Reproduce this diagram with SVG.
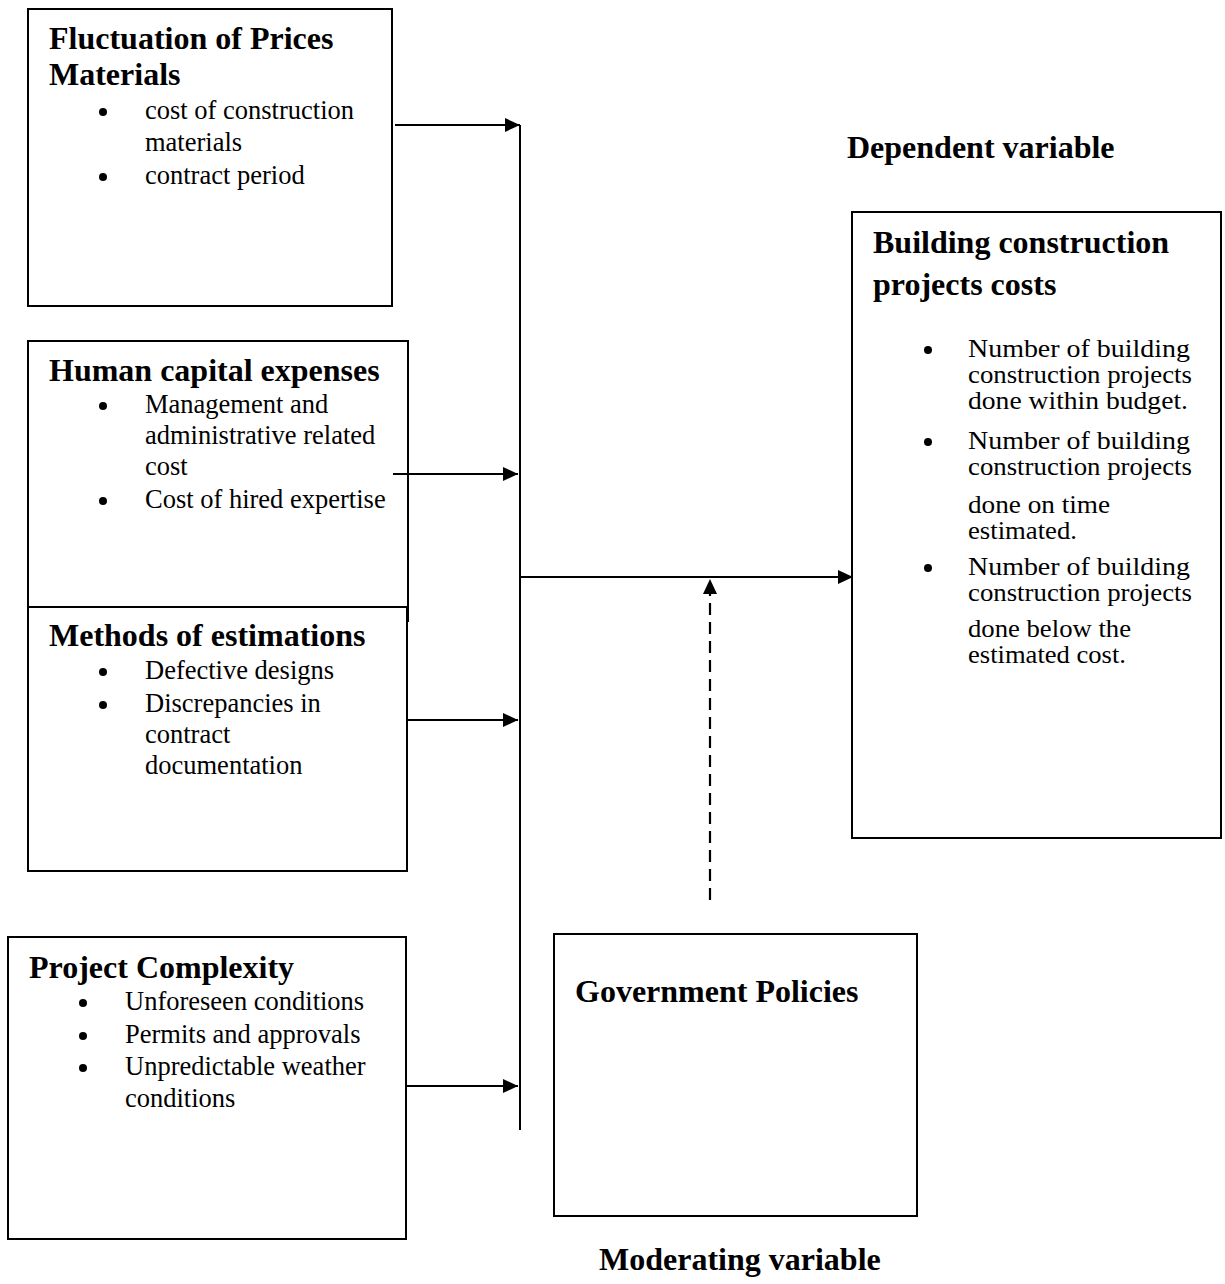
<svg xmlns="http://www.w3.org/2000/svg" width="1225" height="1284" viewBox="0 0 1225 1284">
<defs>
<style>
.box{fill:#fff;stroke:#000;stroke-width:2}
.t{font-family:"Liberation Serif","Times New Roman",serif;font-weight:bold;font-size:32px;fill:#000}
.b{font-family:"Liberation Serif","Times New Roman",serif;font-size:26.5px;fill:#000}
.r{font-family:"Liberation Serif","Times New Roman",serif;font-size:26px;fill:#000}
.ln{stroke:#000;stroke-width:2;fill:none}
.dash{stroke:#000;stroke-width:2.2;fill:none;stroke-dasharray:12,7}
</style>
<marker id="ah" markerWidth="15" markerHeight="14" refX="15" refY="7" orient="auto" markerUnits="userSpaceOnUse">
<path d="M0,0 L15,7 L0,14 Z" fill="#000"/>
</marker>
</defs>
<rect width="1225" height="1284" fill="#fff"/>
<g id="node-fluctuation">
<rect class="box" x="28" y="9" width="364" height="297"/>
<text class="t" x="49" y="49">Fluctuation of Prices</text>
<text class="t" x="49" y="85">Materials</text>
<circle cx="103" cy="112" r="4"/>
<text class="b" x="145" y="119">cost of construction</text>
<text class="b" x="145" y="151">materials</text>
<circle cx="103" cy="177" r="4"/>
<text class="b" x="145" y="184">contract period</text>
</g>
<g id="node-human">
<path class="box" d="M408,622 V341 H28 V607"/>
<text class="t" x="49" y="381">Human capital expenses</text>
<circle cx="103" cy="406" r="4"/>
<text class="b" x="145" y="413">Management and</text>
<text class="b" x="145" y="444">administrative related</text>
<text class="b" x="145" y="475">cost</text>
<circle cx="103" cy="501" r="4"/>
<text class="b" x="145" y="508">Cost of hired expertise</text>
</g>
<g id="node-methods">
<rect class="box" x="28" y="607" width="379" height="264"/>
<text class="t" x="49" y="646">Methods of estimations</text>
<circle cx="103" cy="672" r="4"/>
<text class="b" x="145" y="679">Defective designs</text>
<circle cx="103" cy="705" r="4"/>
<text class="b" x="145" y="712">Discrepancies in</text>
<text class="b" x="145" y="743">contract</text>
<text class="b" x="145" y="774">documentation</text>
</g>
<g id="node-complexity">
<rect class="box" x="8" y="937" width="398" height="302"/>
<text class="t" x="29" y="978">Project Complexity</text>
<circle cx="83" cy="1003" r="4"/>
<text class="b" x="125" y="1010">Unforeseen conditions</text>
<circle cx="83" cy="1036" r="4"/>
<text class="b" x="125" y="1043">Permits and approvals</text>
<circle cx="83" cy="1068" r="4"/>
<text class="b" x="125" y="1075">Unpredictable weather</text>
<text class="b" x="125" y="1107">conditions</text>
</g>
<g id="node-dependent">
<text class="t" x="847" y="158">Dependent variable</text>
<rect class="box" x="852" y="212" width="369" height="626"/>
<text class="t" x="873" y="253">Building construction</text>
<text class="t" x="873" y="295">projects costs</text>
<circle cx="928" cy="350" r="4"/>
<text class="r" x="968" y="357" textLength="222" lengthAdjust="spacingAndGlyphs">Number of building</text>
<text class="r" x="968" y="383" textLength="224" lengthAdjust="spacingAndGlyphs">construction projects</text>
<text class="r" x="968" y="409" textLength="220" lengthAdjust="spacingAndGlyphs">done within budget.</text>
<circle cx="928" cy="442" r="4"/>
<text class="r" x="968" y="449" textLength="222" lengthAdjust="spacingAndGlyphs">Number of building</text>
<text class="r" x="968" y="475" textLength="224" lengthAdjust="spacingAndGlyphs">construction projects</text>
<text class="r" x="968" y="513" textLength="142" lengthAdjust="spacingAndGlyphs">done on time</text>
<text class="r" x="968" y="539" textLength="109" lengthAdjust="spacingAndGlyphs">estimated.</text>
<circle cx="928" cy="568" r="4"/>
<text class="r" x="968" y="575" textLength="222" lengthAdjust="spacingAndGlyphs">Number of building</text>
<text class="r" x="968" y="601" textLength="224" lengthAdjust="spacingAndGlyphs">construction projects</text>
<text class="r" x="968" y="637" textLength="163" lengthAdjust="spacingAndGlyphs">done below the</text>
<text class="r" x="968" y="663" textLength="158" lengthAdjust="spacingAndGlyphs">estimated cost.</text>
</g>
<g id="node-government">
<rect class="box" x="554" y="934" width="363" height="282"/>
<text class="t" x="575" y="1002">Government Policies</text>
<text class="t" x="599" y="1270">Moderating variable</text>
</g>
<g id="connectors">
<line class="ln" x1="395" y1="125" x2="520" y2="125" marker-end="url(#ah)"/>
<line class="ln" x1="393" y1="474" x2="518" y2="474" marker-end="url(#ah)"/>
<line class="ln" x1="407" y1="720" x2="518" y2="720" marker-end="url(#ah)"/>
<line class="ln" x1="406" y1="1086" x2="518" y2="1086" marker-end="url(#ah)"/>
<line class="ln" x1="520" y1="125" x2="520" y2="1130"/>
<line class="ln" x1="520" y1="577" x2="853" y2="577" marker-end="url(#ah)"/>
<line class="dash" x1="710" y1="900" x2="710" y2="579" marker-end="url(#ah)"/>
</g>
</svg>
